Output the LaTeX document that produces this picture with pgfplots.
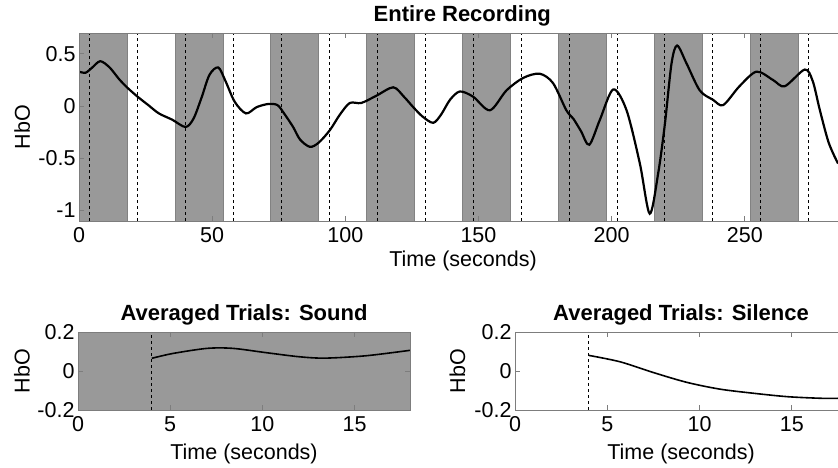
\documentclass[border=0pt]{standalone}
\usepackage{fontspec}
\setmainfont{Liberation Sans}
\usepackage{pgfplots}
\pgfplotsset{compat=1.18}

\definecolor{patchgray}{RGB}{153,153,153}
\definecolor{framegray}{RGB}{125,125,125}

\pgfplotsset{
  matlab/.style={
    scale only axis,
    axis on top,
    tick align=inside,
    axis line style={framegray, line width=0.8pt, -},
    every tick/.style={framegray, line width=0.8pt},
    major tick length=5pt,
    /pgf/number format/assume math mode=true,
    tick label style={font=\fontsize{21.5}{22}\selectfont},
    xticklabel style={yshift=-3pt},
    label style={font=\fontsize{21.5}{22}\selectfont},
    title style={font=\bfseries\fontsize{22}{22}\selectfont, anchor=base, yshift=5pt},
  },
  block/.style={fill=patchgray, draw=patchgray!85!black, line width=0.5pt},
  onset/.style={black, dashed, line width=0.9pt, dash pattern=on 3pt off 3pt},
}

\begin{document}
\begin{tikzpicture}
\useasboundingbox (0,0) rectangle (838pt,468pt);

% ---- entire recording ----
\begin{axis}[matlab,
  at={(79pt,247pt)}, anchor=south west,
  width=759pt, height=188pt,
  axis x line*=box, axis y line*=left,
  xmin=0, xmax=285, ymin=-1.1, ymax=0.7,
  xtick={0,50,100,150,200,250},
  ytick={-1,-0.5,0,0.5},
  title={Entire Recording},
  title style={at={(axis description cs:0.505,1)}},
  xlabel={Time (seconds)},
  xlabel style={at={(axis description cs:0.506,0)}, anchor=center, yshift=-40pt},
  ylabel={HbO},
  ylabel style={at={(axis description cs:-0.075,0.5)}, anchor=center},
]
\addplot[block] coordinates {(0,-1.1)(18,-1.1)(18,0.7)(0,0.7)} -- cycle;
\addplot[block] coordinates {(36,-1.1)(54,-1.1)(54,0.7)(36,0.7)} -- cycle;
\addplot[block] coordinates {(72,-1.1)(90,-1.1)(90,0.7)(72,0.7)} -- cycle;
\addplot[block] coordinates {(108,-1.1)(126,-1.1)(126,0.7)(108,0.7)} -- cycle;
\addplot[block] coordinates {(144,-1.1)(162,-1.1)(162,0.7)(144,0.7)} -- cycle;
\addplot[block] coordinates {(180,-1.1)(198,-1.1)(198,0.7)(180,0.7)} -- cycle;
\addplot[block] coordinates {(216,-1.1)(234,-1.1)(234,0.7)(216,0.7)} -- cycle;
\addplot[block] coordinates {(252,-1.1)(270,-1.1)(270,0.7)(252,0.7)} -- cycle;
\pgfplotsinvokeforeach{4,22,40,58,76,94,112,130,148,166,184,202,220,238,256,274}{
  \addplot[onset] coordinates {(#1,-1.1)(#1,0.7)};
}
\addplot[black, line width=2.2pt, smooth] coordinates {
(0,0.33)(2.5,0.32)(5,0.37)(8,0.43)(11.5,0.37)(15,0.26)(18,0.18)(22,0.09)
(26,0.01)(30,-0.07)(35,-0.13)(40,-0.20)(43,-0.12)(46,0.08)(49,0.30)(52.3,0.37)
(55,0.24)(58.5,0.04)(62.7,-0.07)(66.7,-0.01)(71,0.02)(74.5,0.01)(77,-0.07)
(80.4,-0.20)(83,-0.32)(86.7,-0.39)(90,-0.35)(94.2,-0.23)(98,-0.08)(101.7,0.03)
(106,0.03)(111.7,0.10)(118,0.18)(122,0.09)(125.5,-0.01)(129,-0.10)(133,-0.16)
(136,-0.08)(139.3,0.06)(143,0.14)(148,0.09)(154.3,-0.04)(160.5,0.15)(166.8,0.27)
(173,0.31)(178,0.22)(183,-0.04)(185.6,-0.12)(188.5,-0.24)(191.6,-0.37)
(195.6,-0.13)(200.6,0.16)(205.6,-0.04)(210.6,-0.55)(214.3,-1.03)(217.5,-0.64)
(220,-0.17)(222.5,0.41)(224.6,0.58)(228.1,0.41)(233.1,0.15)(238.1,0.06)
(241.9,0.01)(248,0.19)(254.4,0.33)(260.6,0.25)(265,0.19)(272.5,0.35)
(275.5,0.24)(278.2,-0.04)(281.5,-0.35)(285,-0.55)
};
\end{axis}

% ---- averaged trials: sound ----
\begin{axis}[matlab,
  at={(78pt,58pt)}, anchor=south west,
  width=332pt, height=78pt,
  xmin=0, xmax=18, ymin=-0.2, ymax=0.2,
  xtick={0,5,10,15},
  ytick={-0.2,0,0.2},
  title={Averaged Trials: Sound},
  title style={at={(axis description cs:0.5,1)}},
  xlabel={Time (seconds)},
  xlabel style={at={(axis description cs:0.5,0)}, anchor=center, yshift=-44pt},
  ylabel={HbO},
  ylabel style={at={(axis description cs:-0.169,0.5)}, anchor=center},
]
\addplot[block] coordinates {(0,-0.2)(18,-0.2)(18,0.2)(0,0.2)} -- cycle;
\addplot[onset] coordinates {(4,-0.2)(4,0.2)};
\addplot[black, line width=1.6pt, smooth] coordinates {
(4,0.065)(5.15,0.09)(7,0.116)(8.4,0.116)(10.2,0.094)(12,0.073)(13.4,0.066)
(15.6,0.078)(18,0.106)
};
\end{axis}

% ---- averaged trials: silence ----
\begin{axis}[matlab,
  at={(515pt,58pt)}, anchor=south west,
  width=323pt, height=78pt,
  axis x line*=box, axis y line*=left,
  xmin=0, xmax=17.5, ymin=-0.2, ymax=0.2,
  xtick={0,5,10,15},
  ytick={-0.2,0,0.2},
  title={Averaged Trials: Silence},
  title style={at={(axis description cs:0.514,1)}},
  xlabel={Time (seconds)},
  xlabel style={at={(axis description cs:0.514,0)}, anchor=center, yshift=-44pt},
  ylabel={HbO},
  ylabel style={at={(axis description cs:-0.178,0.5)}, anchor=center},
]
\addplot[onset] coordinates {(4,-0.2)(4,0.2)};
\addplot[black, line width=1.6pt, smooth] coordinates {
(4,0.08)(5.7,0.047)(7.5,-0.008)(9.3,-0.058)(11.1,-0.093)(13,-0.115)
(14.8,-0.132)(16.6,-0.14)(17.5,-0.14)
};
\end{axis}
\end{tikzpicture}
\end{document}
